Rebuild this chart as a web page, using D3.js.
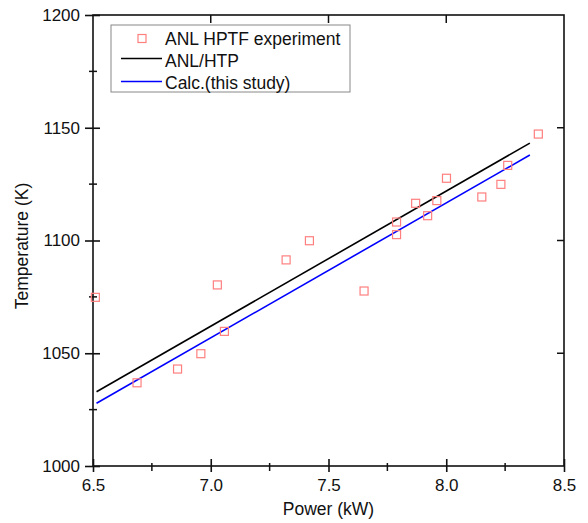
<!DOCTYPE html>
<html>
<head>
<meta charset="utf-8">
<script src="https://cdn.jsdelivr.net/npm/d3@7"></script>
<style>
body { margin: 0; background: #fff; }
text { font-family: "Liberation Sans", Arial, sans-serif; fill: #111; }
</style>
</head>
<body>
<svg id="chart" width="588" height="523"></svg>
<script>
// experiment points (ANL HPTF)
const exptPower = [6.51, 6.687, 6.859, 6.958, 7.028, 7.058, 7.32, 7.419, 7.651, 7.789, 7.789, 7.870, 7.921, 7.960, 8.001, 8.151, 8.232, 8.261, 8.391];
const exptTemp  = [1074.8, 1036.9, 1043.0, 1049.8, 1080.3, 1059.7, 1091.4, 1099.9, 1077.6, 1108.2, 1102.6, 1116.5, 1111.0, 1117.7, 1127.6, 1119.3, 1124.9, 1133.3, 1147.2];

// ANL/HTP line
const htpPower = [6.515, 8.355];
const htpTemp  = [1032.9, 1143.2];

// Calc. (this study)
const calcPower = [6.515, 8.355];
const calcTemp  = [1027.8, 1137.9];

const xMajor = [6.5, 7.0, 7.5, 8.0, 8.5];
const xMinor = [6.75, 7.25, 7.75, 8.25];
const yMajor = [1000, 1050, 1100, 1150, 1200];
const yMinor = [1025, 1075, 1125, 1175];

const svg = d3.select('#chart');
const x = d3.scaleLinear().domain([6.5, 8.5]).range([93, 564]);
const y = d3.scaleLinear().domain([1000, 1200]).range([466, 15]);

// frame
svg.append('rect')
    .attr('x', x(6.5)).attr('y', y(1200))
    .attr('width', x(8.5) - x(6.5)).attr('height', y(1000) - y(1200))
    .attr('fill', 'none').attr('stroke', '#111').attr('stroke-width', 1.6);

// left axis, ticks cross the line
const gLeft = svg.append('g').attr('transform', `translate(${x(6.5)},0)`)
    .call(d3.axisLeft(y).tickValues(yMajor).tickFormat(d3.format('d')).tickSizeOuter(0));
gLeft.select('.domain').remove();
gLeft.selectAll('.tick line').attr('x1', 7).attr('x2', -8).attr('stroke', '#111').attr('stroke-width', 1.6);
gLeft.selectAll('.tick text').attr('x', -13).attr('font-size', 17).attr('fill', '#111');
svg.append('g').selectAll('line').data(yMinor).join('line')
    .attr('x1', x(6.5) - 4).attr('x2', x(6.5) + 4)
    .attr('y1', d => y(d)).attr('y2', d => y(d))
    .attr('stroke', '#111').attr('stroke-width', 1.5);

// bottom axis
const gBottom = svg.append('g').attr('transform', `translate(0,${y(1000)})`)
    .call(d3.axisBottom(x).tickValues(xMajor).tickFormat(d3.format('.1f')).tickSizeOuter(0));
gBottom.select('.domain').remove();
gBottom.selectAll('.tick line').attr('y1', -7).attr('y2', 6).attr('stroke', '#111').attr('stroke-width', 1.6);
gBottom.selectAll('.tick text').attr('y', 13).attr('font-size', 17).attr('fill', '#111');
svg.append('g').selectAll('line').data(xMinor).join('line')
    .attr('x1', d => x(d)).attr('x2', d => x(d))
    .attr('y1', y(1000) - 3).attr('y2', y(1000) + 5)
    .attr('stroke', '#111').attr('stroke-width', 1.5);

// top and right: inward major ticks only
svg.append('g').selectAll('line').data(xMajor.slice(1, -1)).join('line')
    .attr('x1', d => x(d)).attr('x2', d => x(d))
    .attr('y1', y(1200)).attr('y2', y(1200) + 8)
    .attr('stroke', '#111').attr('stroke-width', 1.5);
svg.append('g').selectAll('line').data(yMajor.slice(1, -1)).join('line')
    .attr('x1', x(8.5) - 7).attr('x2', x(8.5))
    .attr('y1', d => y(d)).attr('y2', d => y(d))
    .attr('stroke', '#111').attr('stroke-width', 1.5);

// axis titles
svg.append('text').attr('x', (x(6.5) + x(8.5)) / 2).attr('y', 515)
    .attr('text-anchor', 'middle').attr('font-size', 17.5).text('Power (kW)');
svg.append('text').attr('transform', 'translate(28,246) rotate(-90)')
    .attr('text-anchor', 'middle').attr('font-size', 17.5).text('Temperature (K)');

// lines
const line = d3.line().x(d => x(d[0])).y(d => y(d[1]));
svg.append('path').datum(d3.zip(htpPower, htpTemp))
    .attr('d', line).attr('fill', 'none').attr('stroke', '#000').attr('stroke-width', 1.6);
svg.append('path').datum(d3.zip(calcPower, calcTemp))
    .attr('d', line).attr('fill', 'none').attr('stroke', '#0000ff').attr('stroke-width', 1.6);

// experiment markers
svg.append('g').selectAll('rect').data(d3.zip(exptPower, exptTemp)).join('rect')
    .attr('x', d => x(d[0]) - 4).attr('y', d => y(d[1]) - 4)
    .attr('width', 8).attr('height', 8)
    .attr('fill', 'none').attr('stroke', '#ff7f7f').attr('stroke-width', 1.2);

// legend
const legend = svg.append('g');
legend.append('rect').attr('x', 111).attr('y', 25).attr('width', 239).attr('height', 67)
    .attr('fill', '#fff').attr('stroke', '#888').attr('stroke-width', 1);
legend.append('rect').attr('x', 138).attr('y', 34.5).attr('width', 8).attr('height', 8)
    .attr('fill', 'none').attr('stroke', '#ff7f7f').attr('stroke-width', 1.2);
legend.append('line').attr('x1', 121).attr('x2', 162).attr('y1', 58.5).attr('y2', 58.5)
    .attr('stroke', '#000').attr('stroke-width', 1.6);
legend.append('line').attr('x1', 121).attr('x2', 162).attr('y1', 81.5).attr('y2', 81.5)
    .attr('stroke', '#0000ff').attr('stroke-width', 1.6);
const labels = ['ANL HPTF experiment', 'ANL/HTP', 'Calc.(this study)'];
legend.selectAll('text.lab').data(labels).join('text')
    .attr('class', 'lab')
    .attr('x', 165).attr('y', (d, i) => 44.5 + i * 22.3)
    .attr('font-size', 17.5).text(d => d);
</script>
</body>
</html>
